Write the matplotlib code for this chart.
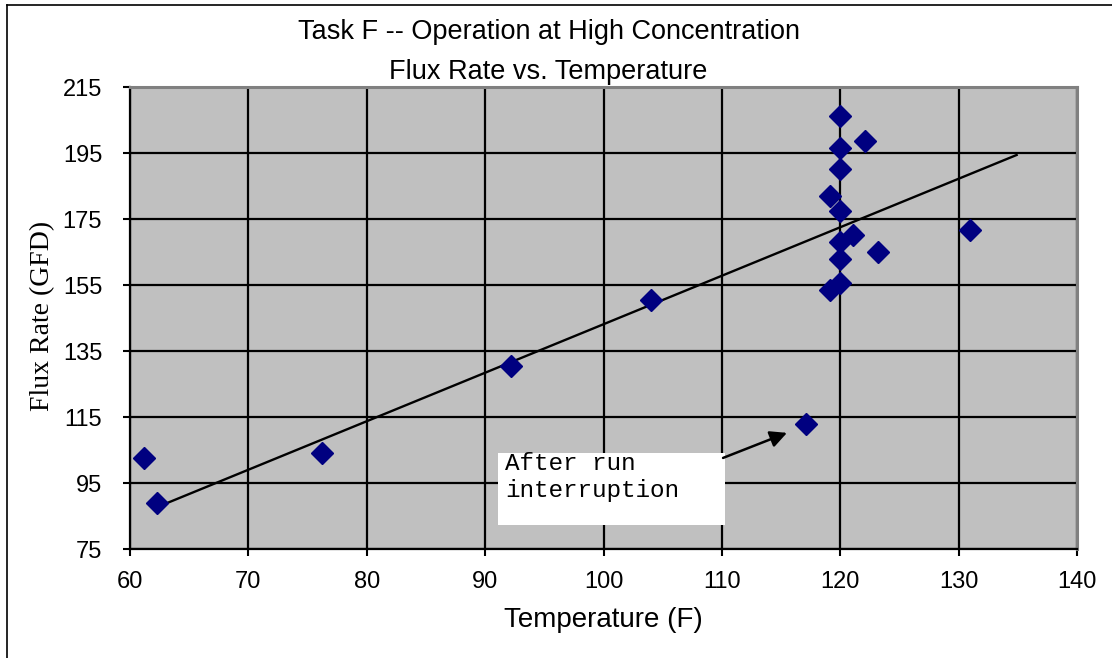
import matplotlib
matplotlib.use("Agg")
import matplotlib.pyplot as plt
from matplotlib.patches import Rectangle
from matplotlib.lines import Line2D

# ---- data ----
temp_f = [61.2, 62.3, 76.2, 92.2, 104.0, 117.1, 119.1, 119.1, 120.0, 120.0,
          120.0, 120.0, 120.0, 120.0, 120.0, 121.1, 122.1, 123.2, 131.0]
flux_gfd = [102.6, 88.9, 104.1, 130.5, 150.5, 112.9, 182.0, 153.5, 206.2, 196.5,
            190.2, 177.4, 168.0, 162.9, 155.6, 170.2, 198.6, 165.0, 171.7]
trend_x = [62.5, 134.9]
trend_y = [88.0, 194.4]
x_ticks = [60, 70, 80, 90, 100, 110, 120, 130, 140]
y_ticks = [75, 95, 115, 135, 155, 175, 195, 215]
title_lines = ["Task F -- Operation at High Concentration", "Flux Rate vs. Temperature"]
note_text = "After run\ninterruption"

W, H = 1112, 658
fig = plt.figure(figsize=(W / 100, H / 100), dpi=100)
fig.patch.set_facecolor("white")

L, R, T, B = 130, 1077, 87, 549
ax = fig.add_axes([L / W, 1 - B / H, (R - L) / W, (B - T) / H])
ax.set_facecolor("#C0C0C0")
ax.set_xlim(60, 140)
ax.set_ylim(75, 215)
ax.set_xticks(x_ticks)
ax.set_yticks(y_ticks)
ax.grid(True, color="black", linewidth=1.6, zorder=1)
ax.set_axisbelow(True)

for s in ["left", "bottom"]:
    ax.spines[s].set_color("black")
    ax.spines[s].set_linewidth(1.6)
for s in ["top", "right"]:
    ax.spines[s].set_color("#808080")
    ax.spines[s].set_linewidth(2.2)

ax.tick_params(direction="out", length=5, width=1.5, colors="black",
               labelsize=17)
for lab in ax.get_xticklabels() + ax.get_yticklabels():
    lab.set_fontfamily("Liberation Sans")
ax.tick_params(axis="x", pad=11)
ax.tick_params(axis="y", pad=15)

ax.plot(trend_x, trend_y, color="black", linewidth=1.7, zorder=3)
ax.plot(temp_f, flux_gfd, linestyle="none", marker="D", markersize=11,
        color="#000080", markeredgecolor="#000080", zorder=4)

# annotation box
ax.add_patch(Rectangle((91.1, 82.3), 19.15, 21.8, facecolor="white",
                       edgecolor="none", zorder=5))
ax.text(91.7, 104.5, note_text, family="Liberation Mono", fontsize=17.5,
        va="top", ha="left", linespacing=1.25, zorder=6)
ax.annotate("", xy=(115.5, 110.2), xytext=(110.1, 102.6),
            arrowprops=dict(arrowstyle="-|>,head_length=1.0,head_width=0.5",
                            color="black", lw=1.8, shrinkA=0, shrinkB=0),
            zorder=6)

ax.set_xlabel("Temperature (F)", fontsize=20, family="Liberation Sans", labelpad=10)
ax.set_ylabel("Flux Rate (GFD)", fontsize=20, family="Liberation Serif")
ax.yaxis.set_label_coords((55 - L) / (R - L), 0.505)

fig.text(549 / W, 1 - 32 / H, title_lines[0], ha="center", va="center",
         fontsize=19.5, family="Liberation Sans")
fig.text(548 / W, 1 - 72 / H, title_lines[1], ha="center", va="center",
         fontsize=19.5, family="Liberation Sans")

# chart-area border
fig.add_artist(Line2D([7 / W, 7 / W], [0, 1 - 5 / H], color="black", lw=1.2))
fig.add_artist(Line2D([7 / W, 1], [1 - 5 / H, 1 - 5 / H], color="black", lw=1.2))

fig.savefig("out.png", dpi=100)
